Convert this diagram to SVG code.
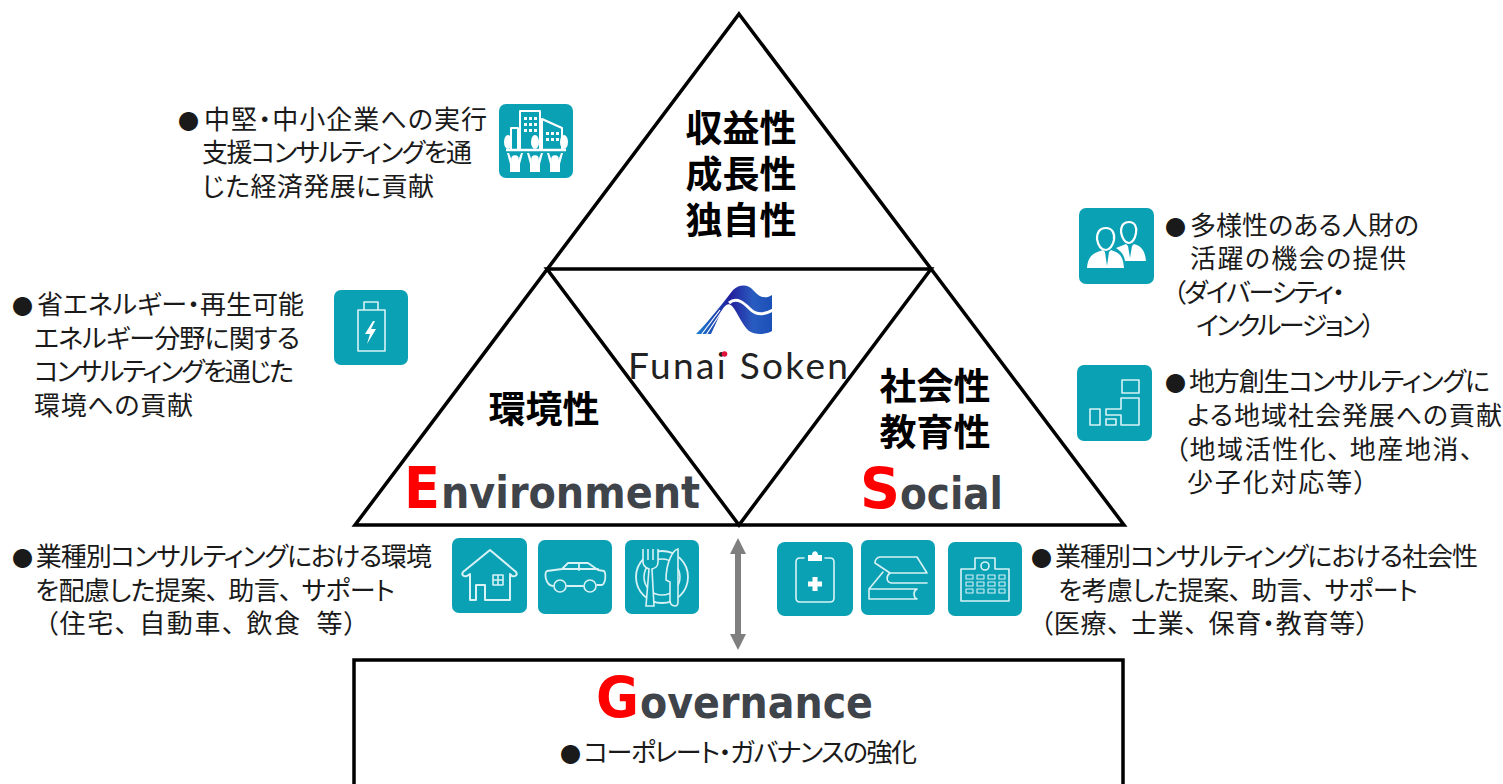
<svg xmlns="http://www.w3.org/2000/svg" width="1503" height="784" viewBox="0 0 1503 784">
<style>
.t{font-family:"Noto Sans CJK JP","Liberation Sans",sans-serif;font-size:26px;fill:#1a1a1a;font-feature-settings:"palt";}
.b{font-size:21px;}
.h{font-family:"Noto Sans CJK JP","Liberation Sans",sans-serif;font-size:37px;font-weight:700;fill:#000;text-anchor:middle;}
.r{font-family:"DejaVu Sans","Liberation Sans",sans-serif;font-weight:700;font-size:57px;fill:#f00;}
.g{font-family:"DejaVu Sans","Liberation Sans",sans-serif;font-weight:700;font-size:44px;fill:#3f444b;}
.l{fill:none;stroke:#000;stroke-width:3.5;stroke-linejoin:miter;}
.bg{fill:#0aa1b5;}
.s{fill:none;stroke:#d8f2f5;stroke-width:1.6;stroke-linejoin:round;stroke-linecap:round;}
.w{fill:#fff;stroke:none;}
</style>
<defs>
<linearGradient id="wave" x1="0" y1="0" x2="1" y2="0">
<stop offset="0" stop-color="#1c7fd0"/><stop offset="0.45" stop-color="#221f9c"/><stop offset="0.75" stop-color="#2a5cc0"/><stop offset="1" stop-color="#1b50b8"/>
</linearGradient>
<marker id="ah" markerWidth="16" markerHeight="16" refX="8" refY="8" orient="auto-start-reverse" markerUnits="userSpaceOnUse"><path d="M0,0L16,8L0,16Z" fill="#7f7f7f"/></marker>
</defs>

<g id="pyramid">
<path class="l" d="M739,14L1124,525H355Z"/>
<path class="l" d="M547,269H931L739,525Z"/>
</g>

<g id="connectors">
<path d="M738,546V642" stroke="#7f7f7f" stroke-width="6" fill="none" marker-start="url(#ah)" marker-end="url(#ah)"/>
</g>

<g id="profit">
<text class="h" x="741" y="142">収益性</text>
<text class="h" x="741" y="188">成長性</text>
<text class="h" x="741" y="234">独自性</text>
</g>

<g id="logo">
<path fill="url(#wave)" d="M696,334C710,320 725,300 733,290C740,284 748,284 754,291C760,298 766,299 772,295V331C765,335 755,335 749,331C742,325 738,313 732,306C728,302 725,305 722,310L711,334Z"/>
<path fill="none" stroke="#fff" stroke-width="3" d="M729,303C737,296 745,304 750,309C757,316 766,314 773,310"/>
<path fill="none" stroke="#fff" stroke-width="1.2" d="M701,335L720,310M706,335L722,311"/>
<text x="628" y="378.500" font-family="Lato,'Liberation Sans',sans-serif" font-weight="400" font-size="37" fill="#222" textLength="220" lengthAdjust="spacing">Funai Soken</text>
<circle cx="724.500" cy="354" r="2.800" fill="#e0143c"/>
</g>

<g id="environment">
<text class="h" x="544" y="423">環境性</text>
<text class="r" x="404" y="508" textLength="36" lengthAdjust="spacingAndGlyphs">E</text>
<text class="g" x="441" y="508" textLength="259" lengthAdjust="spacingAndGlyphs">nvironment</text>
</g>

<g id="social">
<text class="h" x="935" y="400">社会性</text>
<text class="h" x="935" y="446">教育性</text>
<text class="r" x="860" y="509" textLength="40" lengthAdjust="spacingAndGlyphs">S</text>
<text class="g" x="900" y="509" textLength="103" lengthAdjust="spacingAndGlyphs">ocial</text>
</g>

<g id="governance">
<path class="l" d="M354,790V660H1123V790"/>
<text class="r" x="596" y="718" textLength="43" lengthAdjust="spacingAndGlyphs">G</text>
<text class="g" x="640" y="718" textLength="233" lengthAdjust="spacingAndGlyphs">overnance</text>
<text class="t" x="560" y="762" textLength="357" lengthAdjust="spacing"><tspan class="b">●</tspan><tspan dx="4">コーポレート・ガバナンスの強化</tspan></text>
</g>

<g id="note-sme">
<text class="t" x="178" y="129" textLength="309" lengthAdjust="spacing"><tspan class="b">●</tspan><tspan dx="4">中堅・中小企業への実行</tspan></text>
<text class="t" x="202" y="162" textLength="270" lengthAdjust="spacing">支援コンサルティングを通</text>
<text class="t" x="202" y="196" textLength="232" lengthAdjust="spacing">じた経済発展に貢献</text>
</g>
<g id="note-energy">
<text class="t" x="12" y="314" textLength="292" lengthAdjust="spacing"><tspan class="b">●</tspan><tspan dx="4">省エネルギー・再生可能</tspan></text>
<text class="t" x="34" y="348" textLength="266" lengthAdjust="spacing">エネルギー分野に関する</text>
<text class="t" x="34" y="381" textLength="260" lengthAdjust="spacing">コンサルティングを通じた</text>
<text class="t" x="34" y="415" textLength="159" lengthAdjust="spacing">環境への貢献</text>
</g>
<g id="note-diversity">
<text class="t" x="1165" y="235" textLength="254" lengthAdjust="spacing"><tspan class="b">●</tspan><tspan dx="4">多様性のある人財の</tspan></text>
<text class="t" x="1190" y="268" textLength="216" lengthAdjust="spacing">活躍の機会の提供</text>
<text class="t" x="1173" y="302" textLength="172" lengthAdjust="spacing">（ダイバーシティ・</text>
<text class="t" x="1196" y="335" textLength="179" lengthAdjust="spacing">インクルージョン）</text>
</g>
<g id="note-region">
<text class="t" x="1165" y="391" textLength="325" lengthAdjust="spacing"><tspan class="b">●</tspan><tspan dx="4">地方創生コンサルティングに</tspan></text>
<text class="t" x="1187" y="425" textLength="315" lengthAdjust="spacing">よる地域社会発展への貢献</text>
<text class="t" x="1175" y="459" textLength="298" lengthAdjust="spacing">（地域活性化、<tspan dx="8">地産地消、</tspan></text>
<text class="t" x="1187" y="492" textLength="180" lengthAdjust="spacing">少子化対応等）</text>
</g>
<g id="note-env-industry">
<text class="t" x="12" y="566" textLength="420" lengthAdjust="spacing"><tspan class="b">●</tspan><tspan dx="4">業種別コンサルティングにおける環境</tspan></text>
<text class="t" x="35" y="600" textLength="360" lengthAdjust="spacing">を配慮した提案、<tspan dx="10">助言、</tspan><tspan dx="10">サポート</tspan></text>
<text class="t" x="45" y="633" textLength="312" lengthAdjust="spacing" xml:space="preserve">（住宅、<tspan dx="10">自動車、</tspan><tspan dx="10">飲食  等）</tspan></text>
</g>
<g id="note-soc-industry">
<text class="t" x="1031" y="566" textLength="447" lengthAdjust="spacing"><tspan class="b">●</tspan><tspan dx="4">業種別コンサルティングにおける社会性</tspan></text>
<text class="t" x="1058" y="600" textLength="360" lengthAdjust="spacing">を考慮した提案、<tspan dx="10">助言、</tspan><tspan dx="10">サポート</tspan></text>
<text class="t" x="1040" y="633" textLength="329" lengthAdjust="spacing">（医療、<tspan dx="10">士業、</tspan><tspan dx="10">保育・教育等）</tspan></text>
</g>

<g id="icon-city" transform="translate(499,104)">
<rect class="bg" width="74" height="74" rx="7"/>
<path class="s" style="stroke:#fff;stroke-width:2" d="M21,46V7H41V46M43,46V15L63,24V46M12,46V24H19V46"/>
<g class="w"><rect x="25" y="13" width="3" height="3"/><rect x="30" y="13" width="3" height="3"/><rect x="35" y="13" width="3" height="3"/><rect x="25" y="19" width="3" height="3"/><rect x="30" y="19" width="3" height="3"/><rect x="35" y="19" width="3" height="3"/><rect x="25" y="25" width="3" height="3"/><rect x="30" y="25" width="3" height="3"/><rect x="35" y="25" width="3" height="3"/><rect x="47" y="28" width="3" height="3"/><rect x="52" y="28" width="3" height="3"/><rect x="57" y="28" width="3" height="3"/><rect x="47" y="34" width="3" height="3"/><rect x="52" y="34" width="3" height="3"/><rect x="57" y="34" width="3" height="3"/>
<ellipse cx="9" cy="38" rx="4" ry="7"/><ellipse cx="36" cy="38" rx="4" ry="7"/><ellipse cx="65" cy="38" rx="4" ry="7"/></g>
<path d="M7,46H67" stroke="#fff" stroke-width="2.500"/>
<g class="w"><circle cx="16" cy="55" r="3.800"/><path d="M11,68V60L8,49H10L13,57H19L22,49H24L21,60V68Z"/><circle cx="36" cy="55" r="3.800"/><path d="M31,68V60L28,49H30L33,57H39L42,49H44L41,60V68Z"/><circle cx="56" cy="55" r="3.800"/><path d="M51,68V60L48,49H50L53,57H59L62,49H64L61,60V68Z"/></g>
</g>

<g id="icon-battery" transform="translate(334,290)">
<rect class="bg" width="74" height="75" rx="7"/>
<path class="s" d="M24,20H51V61H24ZM30,20V12H44V20"/>
<path class="w" d="M39,31L31,44H36L33,54L42,39H37L41,31Z"/>
</g>

<g id="icon-people" transform="translate(1079,208)">
<rect class="bg" width="75" height="76" rx="7"/>
<path class="w" d="M37,40L47,36L49,38L51,50L53,38L55,36C62,38 66,42 67,53H46C45,47 42,43 37,40Z"/>
<path style="fill:#0aa1b5;stroke:#fff;stroke-width:2.200" d="M42,24C42,16 46,14 50,14C56,14 58,19 57,25C56,31 53,35 50,35C46,35 43,30 42,24Z"/>
<path class="w" d="M8,60C9,48 14,45 24,42L26,44L28,58L30,44L32,42C41,45 44,48 45,60Z"/>
<path style="fill:#0aa1b5;stroke:#fff;stroke-width:2.200" d="M18,31C18,23 22,20 27,20C33,20 36,25 35,32C34,38 30,42 27,42C22,42 19,37 18,31Z"/>
</g>

<g id="icon-region" transform="translate(1077,365)">
<rect class="bg" width="75" height="76" rx="7"/>
<path class="s" d="M45,15H62V28H45ZM13,44H23V60H13ZM29,44H44V33H62V60H44V50H29ZM29,54H39V60H29Z"/>
</g>

<g id="icon-house" transform="translate(452,538)">
<rect class="bg" width="75" height="75" rx="7"/>
<path class="s" style="stroke-width:2" d="M38,12L64,34C66,37 63,39 60,38L58,36V62H33V47H24V62H18V36L15,38C12,39 9,37 11,34Z"/>
<path class="s" d="M41,37H51V47H41ZM46,37V47M41,42H51"/>
</g>

<g id="icon-car" transform="translate(538,540)">
<rect class="bg" width="74" height="74" rx="7"/>
<path class="s" style="stroke-width:1.800" d="M15,46C7,45 6,32 9,31L24,29L30,23H50L60,30L66,31C68,33 68,43 64,45H59M45,46H29M24,29H60M41,23V30"/>
<circle class="s" cx="22" cy="46" r="6"/><circle class="s" cx="52" cy="46" r="6"/>
</g>

<g id="icon-food" transform="translate(625,540)">
<rect class="bg" width="74" height="74" rx="7"/>
<circle class="s" style="stroke-width:1.800" cx="37" cy="37" r="26"/>
<circle class="s" cx="37" cy="37" r="18"/>
<path d="M18,9V22C18,27 22,28 24,29L21,66H29L27,29C30,28 33,27 33,22V9M23,9V20M28,9V20" stroke="#d8f2f5" stroke-width="1.600" fill="#0aa1b5"/>
<path d="M50,66C46,66 45,64 45,60V42L41,40C41,22 48,10 53,9V40L53,62C53,65 52,66 50,66Z" stroke="#d8f2f5" stroke-width="1.600" fill="#0aa1b5"/>
</g>

<g id="icon-clipboard" transform="translate(777,542)">
<rect class="bg" width="76" height="74" rx="8"/>
<path class="s" d="M27,16H23C20,16 19,18 19,20V56C19,59 21,60 23,60H53C56,60 57,59 57,56V20C57,18 56,16 53,16H48"/>
<path class="w" d="M31,19H45V13H41C41,8 35,8 35,13H31ZM35.500,35H40.500V39.500H45V44.500H40.500V49H35.500V44.500H31V39.500H35.500Z"/>
</g>

<g id="icon-books" transform="translate(861,540)">
<rect class="bg" width="74" height="75" rx="7"/>
<path class="s" d="M19,17H56L66,33H29L14,23C14,20 16,17 19,17ZM29,33C25,36 25,42 30,43H66M22,32L8,49H56M8,49V59H56C52,57 52,51 56,49"/>
</g>

<g id="icon-school" transform="translate(948,542)">
<rect class="bg" width="74" height="74" rx="7"/>
<path class="s" d="M13,27H27V16H47V27H61V59H13Z"/>
<circle class="s" cx="37" cy="24" r="4"/>
<path class="s" style="stroke-width:1.100" d="M18,33H25V37H18ZM29,33H36V37H29ZM40,33H47V37H40ZM51,33H57V37H51ZM18,40H25V44H18ZM29,40H36V44H29ZM40,40H47V44H40ZM51,40H57V44H51ZM18,47H25V51H18ZM29,47H36V51H29ZM40,47H47V51H40ZM51,47H57V51H51Z"/>
</g>
</svg>
